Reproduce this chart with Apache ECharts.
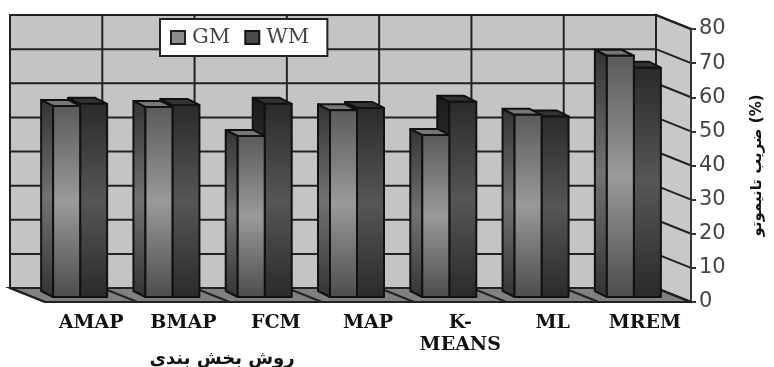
<!DOCTYPE html>
<html>
<head>
<meta charset="utf-8">
<script src="https://cdn.jsdelivr.net/npm/echarts@6/dist/echarts.min.js"></script>
<style>
  html, body { margin: 0; padding: 0; background: #fff; }
  #chart { width: 774px; height: 367px; }
</style>
</head>
<body>
<div id="chart"></div>
<script>
const categories = ['AMAP', 'BMAP', 'FCM', 'MAP', 'K-\nMEANS', 'ML', 'MREM']
const gmValues = [56, 55.7, 47.2, 54.7, 47.5, 53.4, 70.7]
const wmValues = [56.6, 56.3, 56.6, 55.4, 57.2, 52.9, 67.2]
const yTicks = [0, 10, 20, 30, 40, 50, 60, 70, 80]

// depth of the fake 3d room and of the boxes, in px
const roomDx = -35, roomDy = -14
const barDx = -12, barDy = -6
const frontDx = -11, frontDy = -5
const barWidth = 27
const lineColor = '#222'

const vGrad = (stops) => new echarts.graphic.LinearGradient(0, 0, 0, 1, stops.map((c, i) => ({
  offset: i / (stops.length - 1), color: c
})))

const gmLook = {
  front: ['#5a5a5a', '#9a9a9a', '#4c4c4c'],
  side: ['#333333', '#727272', '#333333'],
  top: '#777777'
}
const wmLook = {
  front: ['#2a2a2a', '#565656', '#2a2a2a'],
  side: ['#1a1a1a', '#3c3c3c', '#1a1a1a'],
  top: '#333333'
}

const poly = (points, fill) => ({
  type: 'polygon',
  shape: { points },
  style: { fill, stroke: '#111', lineWidth: 2, lineJoin: 'round' }
})

const line = (a, b) => ({
  type: 'line',
  shape: { x1: a[0], y1: a[1], x2: b[0], y2: b[1] },
  style: { stroke: lineColor, lineWidth: 2 }
})

const renderRoom = (params, api) => {
  const cs = params.coordSys
  const left = cs.x, right = cs.x + cs.width
  const top = cs.y, bottom = cs.y + cs.height
  const back = (p) => [p[0] + roomDx, p[1] + roomDy]
  const children = []

  // back wall, side wall, floor
  children.push({
    type: 'polygon',
    shape: { points: [back([left, top]), back([right, top]), back([right, bottom]), back([left, bottom])] },
    style: { fill: '#c4c4c4', stroke: lineColor, lineWidth: 2 }
  })
  children.push({
    type: 'polygon',
    shape: { points: [back([right, top]), [right, top], [right, bottom], back([right, bottom])] },
    style: { fill: '#c8c8c8', stroke: lineColor, lineWidth: 2 }
  })
  children.push({
    type: 'polygon',
    shape: { points: [back([left, bottom]), back([right, bottom]), [right, bottom], [left, bottom]] },
    style: { fill: '#808080', stroke: lineColor, lineWidth: 2 }
  })

  yTicks.forEach(v => {
    const y = api.coord([0, v])[1]
    children.push(line(back([left, y]), back([right, y])))
    children.push(line(back([right, y]), [right, y]))
  })
  const step = cs.width / categories.length
  categories.forEach((c, i) => {
    const x = left + step * i
    children.push(line(back([x, top]), back([x, bottom])))
    children.push(line(back([x, bottom]), [x, bottom]))
  })
  return { type: 'group', children }
}

const makeRenderBar = (look, side) => (params, api) => {
  const p = api.coord([api.value(0), api.value(1)])
  const base = api.coord([api.value(0), 0])
  const x0 = p[0] + frontDx + (side < 0 ? -barWidth : 0)
  const x1 = x0 + barWidth
  const yTop = p[1] + frontDy
  const yBot = base[1] + frontDy
  return {
    type: 'group',
    children: [
      poly([[x0, yTop], [x0 + barDx, yTop + barDy], [x0 + barDx, yBot + barDy], [x0, yBot]], vGrad(look.side)),
      poly([[x0, yTop], [x0 + barDx, yTop + barDy], [x1 + barDx, yTop + barDy], [x1, yTop]], look.top),
      poly([[x0, yTop], [x1, yTop], [x1, yBot], [x0, yBot]], vGrad(look.front))
    ]
  }
}

const chart = echarts.init(document.getElementById('chart'), null, { renderer: 'canvas' })

chart.setOption({
  animation: false,
  backgroundColor: '#fff',
  title: {
    text: 'روش بخش بندي',
    left: 217,
    top: 345,
    textAlign: 'center',
    textStyle: { fontFamily: 'DejaVu Sans', fontSize: 18, fontWeight: 'bold', color: '#111' }
  },
  legend: {
    left: 160,
    top: 19,
    z: 10,
    padding: [8, 18, 8, 10],
    itemGap: 14,
    itemWidth: 14,
    itemHeight: 13,
    icon: 'rect',
    backgroundColor: '#fff',
    borderColor: '#222',
    borderWidth: 2,
    textStyle: { fontFamily: 'DejaVu Serif', fontSize: 21, color: '#444', padding: [0, 0, 0, 2] },
    data: [
      { name: 'GM', itemStyle: { color: '#8c8c8c', borderColor: '#222', borderWidth: 2 } },
      { name: 'WM', itemStyle: { color: '#4a4a4a', borderColor: '#111', borderWidth: 2 } }
    ]
  },
  grid: { left: 45, right: 83, top: 29, bottom: 65, outerBoundsMode: 'none' },
  xAxis: {
    type: 'category',
    data: categories,
    z: 5,
    axisLine: { lineStyle: { color: lineColor, width: 2 } },
    axisTick: { alignWithLabel: false, length: 4, lineStyle: { color: lineColor, width: 2 } },
    axisLabel: {
      interval: 0,
      margin: 10,
      fontFamily: 'DejaVu Serif',
      fontWeight: 'bold',
      fontSize: 19,
      lineHeight: 22,
      color: '#111'
    }
  },
  yAxis: {
    type: 'value',
    position: 'right',
    min: 0,
    max: 80,
    interval: 10,
    z: 5,
    name: 'ضريب تانيموتو (%)',
    nameLocation: 'middle',
    nameRotate: 90,
    nameGap: 59,
    nameTextStyle: { fontFamily: 'DejaVu Sans', fontSize: 15, fontWeight: 'bold', color: '#111' },
    splitLine: { show: false },
    axisLine: { show: true, lineStyle: { color: '#333', width: 2 } },
    axisTick: { show: true, length: 5, lineStyle: { color: '#333', width: 2 } },
    axisLabel: { margin: 8, fontFamily: 'DejaVu Sans', fontSize: 21, color: '#444' }
  },
  series: [
    {
      name: 'room',
      type: 'custom',
      z: 1,
      silent: true,
      clip: false,
      renderItem: renderRoom,
      data: [[0, 0]]
    },
    {
      name: 'WM',
      type: 'custom',
      z: 2,
      clip: false,
      renderItem: makeRenderBar(wmLook, 1),
      encode: { x: 0, y: 1 },
      data: wmValues.map((v, i) => [i, v])
    },
    {
      name: 'GM',
      type: 'custom',
      z: 3,
      clip: false,
      renderItem: makeRenderBar(gmLook, -1),
      encode: { x: 0, y: 1 },
      data: gmValues.map((v, i) => [i, v])
    }
  ]
})
</script>
</body>
</html>
